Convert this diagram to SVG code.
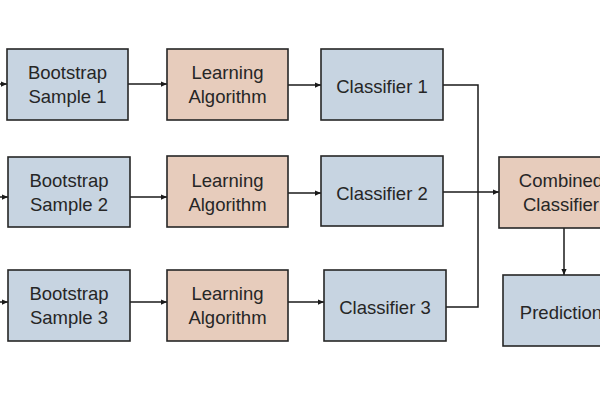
<svg xmlns="http://www.w3.org/2000/svg" width="600" height="400" viewBox="0 0 600 400">
<style>
.blue{fill:#c7d4e1;stroke:#262626;stroke-width:1.6}
.peach{fill:#e7ccbc;stroke:#262626;stroke-width:1.6}
text{font-family:"Liberation Sans",Arial,sans-serif;font-size:18.5px;fill:#262626;text-anchor:middle}
.c{fill:none;stroke:#1a1a1a;stroke-width:1.5}
</style>
<defs>
<marker id="ah" viewBox="0 0 8 8" refX="8" refY="4" markerWidth="6" markerHeight="6" orient="auto" markerUnits="userSpaceOnUse">
<path d="M0,0.5 L8,4 L0,7.5 Z" fill="#1a1a1a"/>
</marker>
</defs>
<rect width="600" height="400" fill="#ffffff"/>
<g id="connectors">
<path class="c" d="M0,84 H7" marker-end="url(#ah)"/>
<path class="c" d="M0,197 H8" marker-end="url(#ah)"/>
<path class="c" d="M0,302 H8" marker-end="url(#ah)"/>
<path class="c" d="M128,84 H167" marker-end="url(#ah)"/>
<path class="c" d="M130,197 H167" marker-end="url(#ah)"/>
<path class="c" d="M130,302 H167" marker-end="url(#ah)"/>
<path class="c" d="M288,85 H321" marker-end="url(#ah)"/>
<path class="c" d="M288,193 H321" marker-end="url(#ah)"/>
<path class="c" d="M288,302 H324" marker-end="url(#ah)"/>
<path class="c" d="M443,85 H478 V307 H446"/>
<path class="c" d="M443,192 H499" marker-end="url(#ah)"/>
<path class="c" d="M564,228 V275" marker-end="url(#ah)"/>
</g>
<g id="bootstrap1"><rect class="blue" x="7" y="49" width="121" height="71"/><text x="67.5" y="79">Bootstrap</text><text x="67.5" y="103">Sample 1</text></g>
<g id="learning1"><rect class="peach" x="167" y="49" width="121" height="71"/><text x="227.5" y="79">Learning</text><text x="227.5" y="103">Algorithm</text></g>
<g id="classifier1"><rect class="blue" x="321" y="49" width="122" height="71"/><text x="382" y="93">Classifier 1</text></g>
<g id="bootstrap2"><rect class="blue" x="8" y="157" width="122" height="70"/><text x="69" y="187">Bootstrap</text><text x="69" y="211">Sample 2</text></g>
<g id="learning2"><rect class="peach" x="167" y="156" width="121" height="71"/><text x="227.5" y="187">Learning</text><text x="227.5" y="211">Algorithm</text></g>
<g id="classifier2"><rect class="blue" x="321" y="156" width="122" height="70"/><text x="382" y="200">Classifier 2</text></g>
<g id="bootstrap3"><rect class="blue" x="8" y="270" width="122" height="71"/><text x="69" y="300">Bootstrap</text><text x="69" y="324">Sample 3</text></g>
<g id="learning3"><rect class="peach" x="167" y="270" width="121" height="71"/><text x="227.5" y="300">Learning</text><text x="227.5" y="324">Algorithm</text></g>
<g id="classifier3"><rect class="blue" x="324" y="270" width="122" height="71"/><text x="385" y="314">Classifier 3</text></g>
<g id="combined"><rect class="peach" x="499" y="157" width="124" height="71"/><text x="561" y="187">Combined</text><text x="561" y="211">Classifier</text></g>
<g id="prediction"><rect class="blue" x="503" y="275" width="120" height="71"/><text x="561" y="319">Prediction</text></g>
</svg>
